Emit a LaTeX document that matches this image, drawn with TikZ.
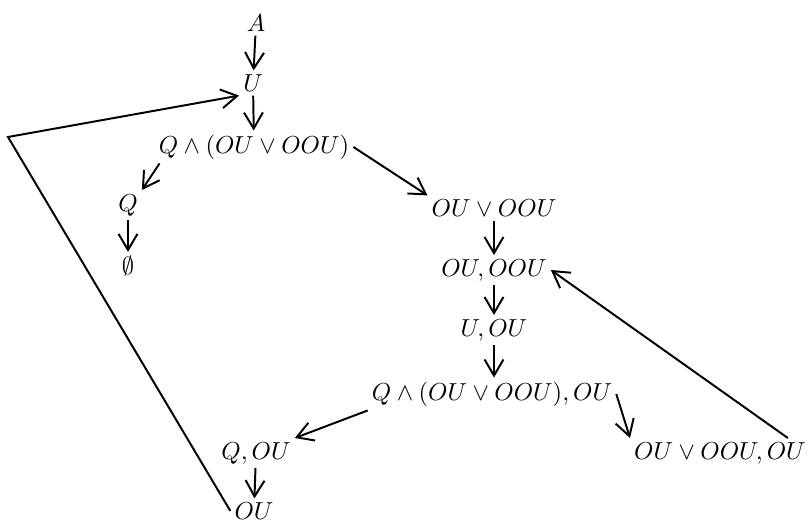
\documentclass[tikz,border=0pt]{standalone}
\usepackage{amsmath, amssymb}
\usetikzlibrary{arrows.meta}

\begin{document}
\begin{tikzpicture}[
  x=0.0143cm, y=-0.0143cm,
  term/.style={inner sep=1.5pt, font=\normalsize},
  arr/.style={-{Straight Barb[length=2.3mm, width=2.7mm]}, thick},
  line/.style={thick}
]
\useasboundingbox (0,0) rectangle (812,525);
\node[term] (a) at (256,23) {$A$};
\node[term] (u) at (253,83) {$U$};
\node[term] (qor) at (254,147) {$Q\wedge(OU\vee OOU)$};
\node[term] (q) at (128,205) {$Q$};
\node[term] (empty) at (128,266) {$\emptyset$};
\node[term] (or) at (494,208) {$OU\vee OOU$};
\node[term] (ouoou) at (494,270) {$OU,OOU$};
\node[term] (uou) at (494,330) {$U,OU$};
\node[term] (qorou) at (492,394) {$Q\wedge(OU\vee OOU),OU$};
\node[term] (qou) at (256,453) {$Q,OU$};
\node[term] (ou) at (254,511) {$OU$};
\node[term] (orou) at (720,453) {$OU\vee OOU,OU$};
\coordinate (corner) at (8,137);

\draw[arr] (a) -- (u);
\draw[arr] (u) -- (qor);
\draw[arr] ([xshift=2pt]qor.south west) -- (q.north east);
\draw[arr] (q) -- (empty);
\draw[arr] (qor.east) -- (or.north west);
\draw[arr] (or) -- (ouoou);
\draw[arr] (ouoou) -- (uou);
\draw[arr] (uou) -- (uou |- qorou.north);
\draw[arr] (qorou.south west) -- (qou.north east);
\draw[arr] (qorou.east) -- (orou.north west);
\draw[arr] ([xshift=-9pt]orou.north east) -- (ouoou.east);
\draw[arr] (qou) -- (ou);
\draw[arr] (ou.west) -- (corner) -- (u.south west);
\end{tikzpicture}
\end{document}
